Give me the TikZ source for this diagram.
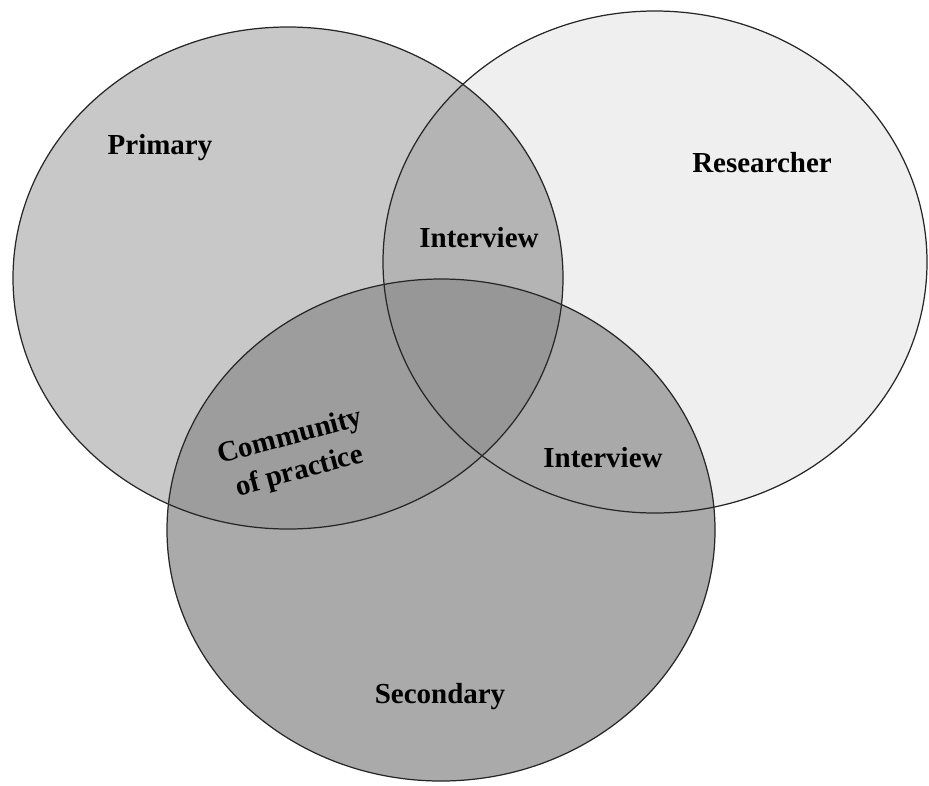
\documentclass[tikz,border=0pt]{standalone}
\usepackage{fontspec}
\setmainfont{Liberation Serif}
\usetikzlibrary{positioning}

\definecolor{primfill}{HTML}{C8C8C8}
\definecolor{resfill}{HTML}{EFEFEF}
\definecolor{secfill}{HTML}{AAAAAA}
\definecolor{primresfill}{HTML}{B4B4B4}
\definecolor{primsecfill}{HTML}{9D9D9D}
\definecolor{ressecfill}{HTML}{A9A9A9}
\definecolor{allfill}{HTML}{979797}

\newcommand{\primellipse}{(288,278) ellipse [x radius=275, y radius=251]}
\newcommand{\resellipse}{(655,262) ellipse [x radius=272, y radius=251]}
\newcommand{\secellipse}{(441,530) ellipse [x radius=274, y radius=251]}

\begin{document}
\begin{tikzpicture}[x=0.02cm, y=-0.02cm,
    venntext/.style={font=\bfseries\fontsize{16.5}{20.5}\selectfont, align=center, inner sep=0pt},
    rim/.style={draw=black!85, line width=0.7pt}]
    \useasboundingbox (0,0) rectangle (929,785);

    % plain sets
    \fill[resfill] \resellipse;
    \fill[primfill] \primellipse;
    \fill[secfill] \secellipse;

    % overlaps
    \begin{scope}
        \clip \resellipse;
        \fill[ressecfill] \secellipse;
    \end{scope}
    \begin{scope}
        \clip \primellipse;
        \fill[primresfill] \resellipse;
        \fill[primsecfill] \secellipse;
        \clip \resellipse;
        \fill[allfill] \secellipse;
    \end{scope}

    \draw[rim] \primellipse;
    \draw[rim] \resellipse;
    \draw[rim] \secellipse;

    \node[venntext]            (primary)    at (160,148) {Primary};
    \node[venntext]            (researcher) at (762,163) {Researcher};
    \node[venntext]            (secondary)  at (440,697) {Secondary};
    \node[venntext]            (interview1) at (479,238) {Interview};
    \node[venntext]            (interview2) at (603,458) {Interview};
    \node[venntext, rotate=15] (community)  at (295,455) {Community\\of practice};
\end{tikzpicture}
\end{document}
